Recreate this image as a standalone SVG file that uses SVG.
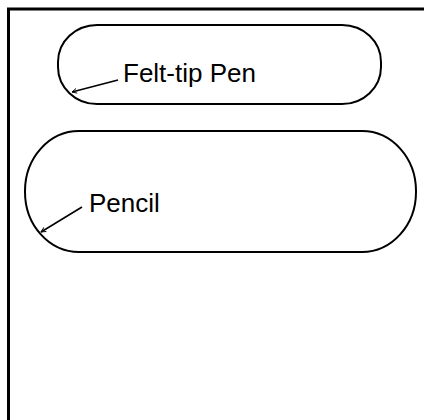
<svg xmlns="http://www.w3.org/2000/svg" width="424" height="420" viewBox="0 0 424 420">
<defs>
<style>
.cap{fill:none;stroke:#000;stroke-width:2}
.lbl{font-family:"Liberation Sans",Arial,sans-serif;font-size:26px;fill:#000}
.lead{fill:none;stroke:#000;stroke-width:1.6}
</style>
<marker id="ah" viewBox="0 0 10 10" refX="9" refY="5" markerWidth="6" markerHeight="6" orient="auto-start-reverse" markerUnits="userSpaceOnUse">
<path d="M1 1 L9 5 L1 9" fill="none" stroke="#000" stroke-width="1.5"/>
</marker>
</defs>
<rect width="424" height="420" fill="#fff"/>
<path d="M8.5 420 V9 H424" fill="none" stroke="#000" stroke-width="3"/>
<g id="felt-tip-pen">
<rect class="cap" x="58" y="25" width="323" height="79" rx="39" ry="37"/>
<text class="lbl" x="123" y="82">Felt-tip Pen</text>
</g>
<g id="pencil">
<rect class="cap" x="25" y="131" width="391" height="121" rx="54" ry="60"/>
<text class="lbl" x="89" y="212">Pencil</text>
</g>
<g id="connectors">
<path class="lead" d="M118 80 L72 92" marker-end="url(#ah)"/>
<path class="lead" d="M82 207 L41 232" marker-end="url(#ah)"/>
</g>
</svg>
